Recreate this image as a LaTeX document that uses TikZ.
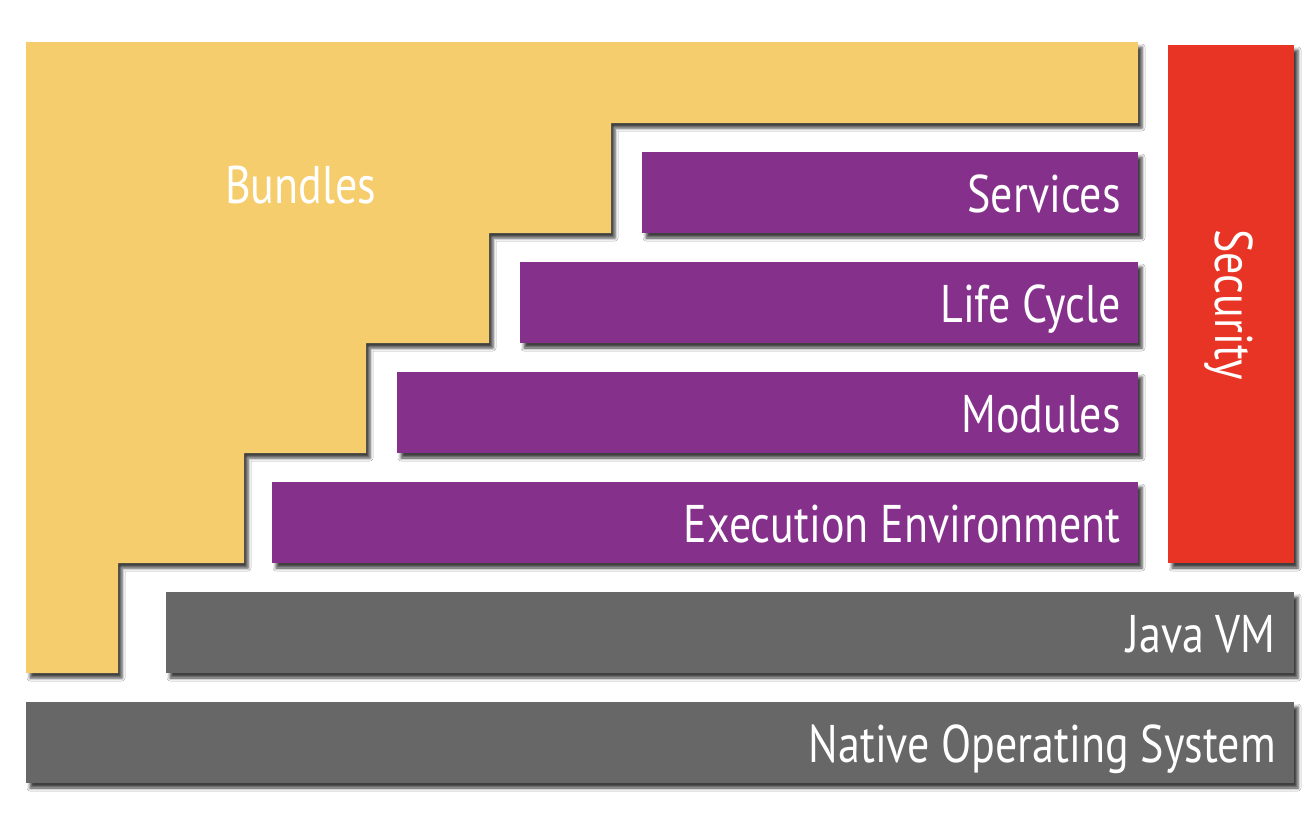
\documentclass[tikz,border=0pt]{standalone}
\usepackage{fontspec}
\setmainfont[FakeStretch=0.83]{PT Sans}
\usetikzlibrary{shadows.blur}
\definecolor{bundleY}{RGB}{246,205,108}
\definecolor{layerP}{RGB}{133,49,139}
\definecolor{secR}{RGB}{232,52,36}
\definecolor{baseG}{RGB}{103,103,103}
\begin{document}
\begin{tikzpicture}[x=1pt,y=-1pt,
  layer/.style={blur shadow={shadow xshift=4pt, shadow yshift=-5pt, shadow blur radius=3pt, shadow opacity=75}},
  lbl/.style={text=white, font=\fontsize{53}{60}\selectfont, inner sep=0pt}]
\useasboundingbox (0,0) rectangle (1316,812);
\fill[white] (0,0) rectangle (1316,812);
% Bundles staircase
\path[fill=bundleY, layer] (26,42) -- (1138,42) -- (1138,123) -- (611,123) -- (611,233)
  -- (489,233) -- (489,343) -- (366,343) -- (366,453) -- (244,453) -- (244,563)
  -- (118,563) -- (118,673) -- (26,673) -- cycle;
\node[lbl, anchor=base west] (bundles) at (225,203) {Bundles};
% framework layers
\path[fill=layerP, layer] (642,152) rectangle (1138,233);
\node[lbl, anchor=base east] (services) at (1121,212) {Services};
\path[fill=layerP, layer] (520,262) rectangle (1138,343);
\node[lbl, anchor=base east] (lifecycle) at (1121,322) {Life Cycle};
\path[fill=layerP, layer] (397,372) rectangle (1138,453);
\node[lbl, anchor=base east] (modules) at (1121,432) {Modules};
\path[fill=layerP, layer] (272,482) rectangle (1138,563);
\node[lbl, anchor=base east] (exec) at (1121,542) {Execution Environment};
% security
\path[fill=secR, layer] (1168,45) rectangle (1294,563);
\node[lbl, anchor=base, rotate=-90] (security) at (1215,305) {Security};
% base layers
\path[fill=baseG, layer] (166,592) rectangle (1294,673);
\node[lbl, anchor=base east] (javavm) at (1276,652) {Java VM};
\path[fill=baseG, layer] (26,702) rectangle (1294,783);
\node[lbl, anchor=base east] (nativeos) at (1276,762) {Native Operating System};
\end{tikzpicture}
\end{document}
